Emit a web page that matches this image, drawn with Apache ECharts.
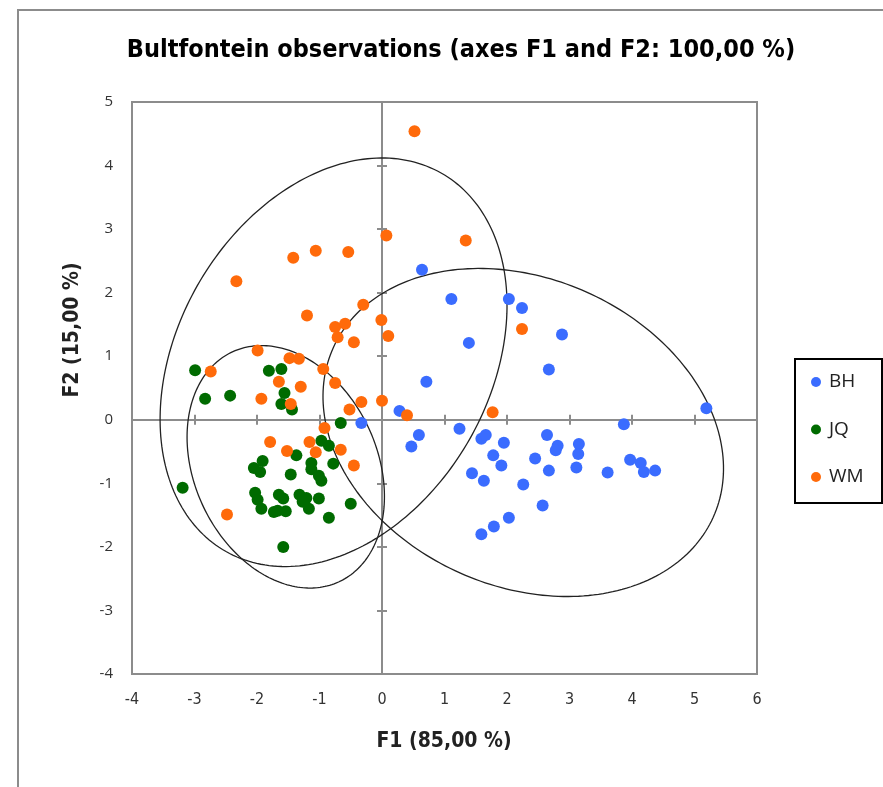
<!DOCTYPE html>
<html>
<head>
<meta charset="utf-8">
<script src="https://cdn.jsdelivr.net/npm/echarts@6/dist/echarts.min.js"></script>
<style>
  html, body { margin: 0; padding: 0; background: #fff; }
  #chart { width: 883px; height: 787px; }
</style>
</head>
<body>
<div id="chart"></div>
<script>
// Group names
const categories = ['BH', 'JQ', 'WM'];

// Observation scores on F1 / F2, one array per group
const bhPoints = [
  [-0.33, -0.05], [0.64, 2.36], [1.11, 1.90], [2.03, 1.90], [2.24, 1.76],
  [2.88, 1.34], [1.39, 1.21], [2.67, 0.79], [0.71, 0.60], [0.28, 0.14],
  [0.59, -0.24], [0.47, -0.42], [1.24, -0.14], [1.59, -0.30], [1.66, -0.24],
  [1.95, -0.36], [1.78, -0.56], [1.91, -0.72], [1.44, -0.84], [1.63, -0.96],
  [2.26, -1.02], [2.57, -1.35], [2.03, -1.54], [1.79, -1.68], [1.59, -1.80],
  [2.64, -0.24], [2.81, -0.41], [2.78, -0.48], [2.45, -0.61], [2.67, -0.80],
  [3.15, -0.38], [3.14, -0.54], [3.11, -0.75], [3.61, -0.83], [3.87, -0.07],
  [3.97, -0.63], [5.19, 0.18], [4.14, -0.68], [4.19, -0.82], [4.37, -0.80]
];
const jqPoints = [
  [-2.99, 0.78], [-2.83, 0.33], [-2.43, 0.38], [-1.81, 0.77], [-1.61, 0.80],
  [-1.56, 0.42], [-1.61, 0.25], [-1.44, 0.16], [-0.66, -0.05], [-0.97, -0.33],
  [-0.85, -0.41], [-1.37, -0.56], [-1.91, -0.65], [-2.05, -0.76], [-1.95, -0.82],
  [-1.13, -0.68], [-1.13, -0.78], [-0.78, -0.69], [-1.46, -0.86], [-1.01, -0.88],
  [-0.97, -0.96], [-3.19, -1.07], [-2.03, -1.15], [-1.99, -1.26], [-1.93, -1.40],
  [-1.65, -1.18], [-1.58, -1.24], [-1.73, -1.45], [-1.67, -1.43], [-1.54, -1.44],
  [-1.32, -1.18], [-1.21, -1.23], [-1.17, -1.40], [-1.01, -1.24], [-1.27, -1.29],
  [-0.50, -1.32], [-0.85, -1.54], [-1.58, -2.00]
];
const wmPoints = [
  [0.52, 4.54], [0.07, 2.90], [1.34, 2.82], [-1.42, 2.55], [-1.06, 2.66],
  [-0.54, 2.64], [-2.33, 2.18], [-0.30, 1.81], [2.24, 1.43], [-0.01, 1.57],
  [0.10, 1.32], [-1.20, 1.64], [-0.75, 1.46], [-0.59, 1.51], [-0.71, 1.30],
  [-0.45, 1.22], [-1.99, 1.09], [-1.48, 0.97], [-1.33, 0.96], [-2.74, 0.76],
  [-0.94, 0.80], [-1.65, 0.60], [-1.30, 0.52], [-0.75, 0.58], [-1.93, 0.33],
  [-1.46, 0.25], [-0.33, 0.28], [0.00, 0.30], [-0.52, 0.16], [0.40, 0.07],
  [1.77, 0.12], [-0.92, -0.13], [-1.79, -0.35], [-1.16, -0.35], [-1.52, -0.49],
  [-1.06, -0.51], [-0.66, -0.47], [-0.45, -0.72], [-2.48, -1.49]
];

// Confidence ellipses: [centre F1, centre F2, semi-axis a, semi-axis b, rotation in degrees]
const ellipseBH = [2.26, -0.20, 3.32, 2.43, -22.6];
const ellipseJQ = [-1.54, -0.74, 2.00, 1.46, -63.9];
const ellipseWM = [-0.775, 0.905, 3.44, 2.49, 58.9];

// Axis ticks
const axisMin = { x: -4, y: -4 };
const axisMax = { x: 6, y: 5 };
const tickStep = 1;

const colors = { BH: '#3a6cff', JQ: '#006b00', WM: '#ff6a0a' };
const gray = '#8c8c8c';
const narrowBold = "'Liberation Sans Narrow', 'Arial Narrow', 'DejaVu Sans Condensed', sans-serif";

// Trace an ellipse in data space and map every vertex through the grid's scales
function renderEllipse(params, api) {
  const cx = api.value(0), cy = api.value(1);
  const a = api.value(2), b = api.value(3);
  const t = api.value(4) * Math.PI / 180;
  const pts = [];
  const n = 240;
  for (let i = 0; i <= n; i++) {
    const s = (i / n) * 2 * Math.PI;
    const ex = a * Math.cos(s), ey = b * Math.sin(s);
    pts.push(api.coord([
      cx + ex * Math.cos(t) - ey * Math.sin(t),
      cy + ex * Math.sin(t) + ey * Math.cos(t)
    ]));
  }
  return {
    type: 'polyline',
    shape: { points: pts },
    style: { fill: null, stroke: '#222', lineWidth: 1.3 },
    silent: true
  };
}

function valueAxis(kind, extra) {
  return Object.assign({
    type: 'value',
    min: axisMin[kind],
    max: axisMax[kind],
    interval: tickStep,
    splitLine: { show: false },
    axisLabel: { show: false },
    axisTick: { show: false },
    axisLine: { show: false }
  }, extra);
}

const zeroLine = { show: true, onZero: true, lineStyle: { color: gray, width: 2 } };
const tickStyle = { color: gray, width: 2 };

const chart = echarts.init(document.getElementById('chart'), null, { renderer: 'canvas' });
chart.setOption({
  animation: false,
  backgroundColor: '#ffffff',
  grid: {
    left: 132, right: 126, top: 102, bottom: 113,
    show: true, borderColor: gray, borderWidth: 2, backgroundColor: '#ffffff'
  },
  xAxis: [
    valueAxis('x', {
      position: 'bottom',
      axisLine: { show: false, onZero: false },
      axisLabel: { show: true, margin: 18, fontSize: 16, color: '#333', fontFamily: narrowBold }
    }),
    valueAxis('x', { axisLine: zeroLine, axisTick: { show: true, inside: true, length: 5, lineStyle: tickStyle } }),
    valueAxis('x', { axisLine: zeroLine, axisTick: { show: true, inside: false, length: 5, lineStyle: tickStyle } })
  ],
  yAxis: [
    valueAxis('y', {
      position: 'left',
      axisLine: { show: false, onZero: false },
      axisLabel: { show: true, margin: 19, fontSize: 15, color: '#333', fontFamily: "'Open Sans', sans-serif" }
    }),
    valueAxis('y', { axisLine: zeroLine, axisTick: { show: true, inside: true, length: 5, lineStyle: tickStyle } }),
    valueAxis('y', { axisLine: zeroLine, axisTick: { show: true, inside: false, length: 5, lineStyle: tickStyle } })
  ],
  legend: {
    data: categories,
    orient: 'vertical',
    left: 811,
    top: 372,
    padding: 0,
    itemWidth: 10,
    itemHeight: 10,
    itemGap: 27.5,
    icon: 'circle',
    textStyle: { fontFamily: "'Open Sans', sans-serif", fontSize: 19, color: '#222', lineHeight: 20, padding: [0, 0, 0, 3] }
  },
  graphic: [
    {
      type: 'rect', z: -10, silent: true,
      shape: { x: 18, y: 10, width: 900, height: 800 },
      style: { fill: null, stroke: gray, lineWidth: 2 }
    },
    {
      type: 'rect', silent: true,
      shape: { x: 795, y: 359, width: 87, height: 144 },
      style: { fill: null, stroke: '#000', lineWidth: 2 }
    },
    {
      type: 'text', silent: true,
      style: {
        text: 'Bultfontein observations (axes F1 and F2: 100,00 %)',
        x: 461, y: 50, align: 'center', verticalAlign: 'middle',
        font: "bold 25px " + narrowBold, fill: '#000'
      }
    },
    {
      type: 'text', silent: true,
      style: {
        text: 'F1 (85,00 %)',
        x: 444, y: 742, align: 'center', verticalAlign: 'middle',
        font: "bold 21px " + narrowBold, fill: '#222'
      }
    },
    {
      type: 'text', silent: true,
      x: 73, y: 330, rotation: Math.PI / 2,
      style: {
        text: 'F2 (15,00 %)',
        x: 0, y: 0, align: 'center', verticalAlign: 'middle',
        font: "bold 21px " + narrowBold, fill: '#222'
      }
    }
  ],
  series: [
    {
      name: 'ellipses',
      type: 'custom',
      renderItem: renderEllipse,
      data: [ellipseBH, ellipseJQ, ellipseWM],
      encode: { x: 0, y: 1 },
      z: 1,
      silent: true
    },
    { name: 'BH', type: 'scatter', data: bhPoints, symbolSize: 12, itemStyle: { color: colors.BH, opacity: 1 }, z: 3 },
    { name: 'JQ', type: 'scatter', data: jqPoints, symbolSize: 12, itemStyle: { color: colors.JQ, opacity: 1 }, z: 3 },
    { name: 'WM', type: 'scatter', data: wmPoints, symbolSize: 12, itemStyle: { color: colors.WM, opacity: 1 }, z: 3 }
  ]
});
</script>
</body>
</html>
